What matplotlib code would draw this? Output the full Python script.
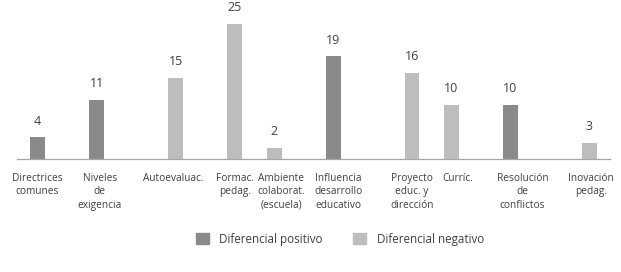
import matplotlib.pyplot as plt
from matplotlib.patches import Patch

# categories and values (left slot / right slot of each group)
categorias = [
    "Directrices\ncomunes", "Niveles\nde\nexigencia", "Autoevaluac.",
    "Formac.\npedag.", "Ambiente\ncolaborat.\n(escuela)",
    "Influencia\ndesarrollo\neducativo", "Proyecto\neduc. y\ndirección",
    "Curríc.", "Resolución\nde\nconflictos", "Inovación\npedag.",
]
serie_izq = [4, 11, 0, 0, 2, 19, 0, 10, 10, 0]
serie_der = [0, 0, 15, 25, 0, 0, 16, 0, 0, 3]
tipo = ["pos", "pos", "neg", "neg", "neg", "pos", "neg", "neg", "pos", "neg"]

# small horizontal nudges of the category labels (in bar-slot units)
desplaz_etiqueta = [-0.03, 0.15, -0.1, 0.0, 0.36, 0.25, 0.0, 0.3, 0.6, 0.1]

DARK = "#8a8a8a"
LIGHT = "#bdbdbd"
TXT = "#404040"
colores = {"pos": DARK, "neg": LIGHT}

plt.rcParams["font.family"] = ["Open Sans", "DejaVu Sans"]

fig = plt.figure(figsize=(6.21, 2.72), dpi=100)
ax = fig.add_axes([17 / 621, 113 / 272, 593 / 621, 146 / 272])

ticks = []
for i, (a, b, t) in enumerate(zip(serie_izq, serie_der, tipo)):
    x = 3 * i if a else 3 * i + 1
    v = a if a else b
    ax.bar(x, v, width=0.76, color=colores[t], zorder=2)
    ax.annotate(str(v), (x, v), xytext=(0, 7), textcoords="offset points",
                ha="center", va="bottom", fontsize=9, color=TXT)
    ticks.append(x + desplaz_etiqueta[i])

ax.set_xlim(-1.05, 29.05)
ax.set_ylim(0, 27.04)
ax.set_xticks(ticks)
ax.set_xticklabels(categorias, fontsize=7.3, color=TXT, linespacing=1.3)
ax.tick_params(axis="x", length=0, pad=10)
ax.set_yticks([])
for s in ["top", "right", "left"]:
    ax.spines[s].set_visible(False)
ax.spines["bottom"].set_color("#a6a6a6")
ax.spines["bottom"].set_linewidth(0.9)

handles = [Patch(color=DARK, label="Diferencial positivo"),
           Patch(color=LIGHT, label="Diferencial negativo")]
fig.legend(handles=handles, loc="center", bbox_to_anchor=(340 / 621, 1 - 239 / 272),
           ncol=2, frameon=False, fontsize=8.4, handlelength=1.1, handleheight=1.1,
           columnspacing=2.6, handletextpad=0.9, labelcolor=TXT)

fig.savefig("out.png", dpi=100)
